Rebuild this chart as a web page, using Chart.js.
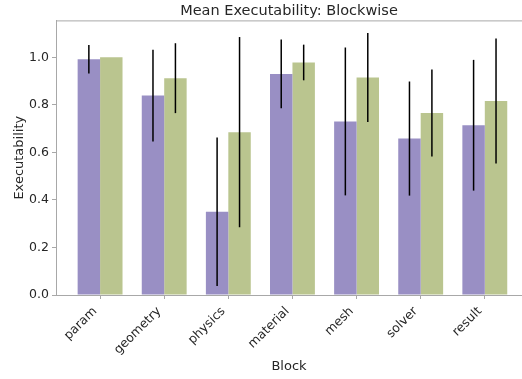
<!DOCTYPE html>
<html>
<head>
<meta charset="utf-8">
<script src="https://cdn.jsdelivr.net/npm/chart.js@4.4.1/dist/chart.umd.min.js"></script>
<style>
  html, body { margin: 0; padding: 0; background: #fff; }
  #wrap { width: 522px; height: 379px; }
</style>
</head>
<body>
<div id="wrap"><canvas id="blockChart"></canvas></div>
<script>
const blocks = ['param', 'geometry', 'physics', 'material', 'mesh', 'solver', 'result']
const meanA = [0.992, 0.839, 0.350, 0.930, 0.730, 0.658, 0.714]
const errA = [0.060, 0.193, 0.312, 0.145, 0.311, 0.240, 0.275]
const meanB = [1.000, 0.912, 0.685, 0.978, 0.915, 0.766, 0.816]
const errB = [0.000, 0.147, 0.400, 0.075, 0.187, 0.183, 0.263]
const yTicks = [0, 0.2, 0.4, 0.6, 0.8, 1.0]

const spineColor = '#a8a8a8'
const textColor = '#262626'
Chart.defaults.font.family = '"DejaVu Sans", sans-serif'
Chart.defaults.color = textColor

// black error bars, no caps
const errorBars = {
  id: 'errorBars',
  afterDatasetsDraw(chart) {
    const ctx = chart.ctx
    const yScale = chart.scales.y
    const errs = [errA, errB]
    ctx.save()
    ctx.strokeStyle = '#000'
    ctx.lineWidth = 1.5
    chart.data.datasets.forEach((ds, i) => {
      const meta = chart.getDatasetMeta(i)
      meta.data.forEach((bar, j) => {
        const e = errs[i][j]
        if (!e) return
        const v = ds.data[j].y
        ctx.beginPath()
        ctx.moveTo(bar.x, yScale.getPixelForValue(v - e))
        ctx.lineTo(bar.x, yScale.getPixelForValue(v + e))
        ctx.stroke()
      })
    })
    ctx.restore()
  }
}

// top spine
const topSpine = {
  id: 'topSpine',
  afterDraw(chart) {
    const { ctx, chartArea } = chart
    ctx.save()
    ctx.strokeStyle = spineColor
    ctx.lineWidth = 1
    ctx.beginPath()
    ctx.moveTo(chartArea.left, chartArea.top + 0.5)
    ctx.lineTo(chartArea.right, chartArea.top + 0.5)
    ctx.stroke()
    ctx.restore()
  }
}

const ctx = document.getElementById('blockChart').getContext('2d')
const blockChart = new Chart(ctx, {
  type: 'bar',
  data: {
    datasets: [{
      data: blocks.map((b, i) => ({ x: i, y: meanA[i] })),
      backgroundColor: '#998fc4',
      borderWidth: 0
    }, {
      data: blocks.map((b, i) => ({ x: i, y: meanB[i] })),
      backgroundColor: '#bac58f',
      borderWidth: 0
    }]
  },
  options: {
    responsive: true,
    maintainAspectRatio: false,
    animation: false,
    layout: { padding: 0 },
    categoryPercentage: 0.7,
    barPercentage: 1.0,
    plugins: {
      legend: { display: false },
      tooltip: { enabled: false },
      title: {
        display: true,
        fullSize: false,
        text: 'Mean Executability: Blockwise',
        color: textColor,
        font: { size: 14.5, weight: 'normal' },
        padding: { top: 3, bottom: 0 }
      }
    },
    scales: {
      x: {
        type: 'linear',
        min: -0.6875,
        max: 6.58,
        offset: false,
        afterBuildTicks: (scale) => { scale.ticks = blocks.map((b, i) => ({ value: i })) },
        afterFit: (scale) => { scale.height = 84 },
        ticks: {
          callback: (v) => blocks[v],
          minRotation: 45,
          maxRotation: 45,
          autoSkip: false,
          padding: 5,
          labelOffset: -5,
          color: textColor,
          font: { size: 12.5 }
        },
        grid: { offset: false, drawOnChartArea: false, tickLength: 4, tickColor: spineColor },
        border: { color: spineColor },
        title: { display: true, text: 'Block', color: textColor, font: { size: 13 }, padding: { top: 0, bottom: 5 } }
      },
      y: {
        min: 0,
        max: 1.155,
        afterBuildTicks: (scale) => { scale.ticks = yTicks.map(v => ({ value: v })) },
        afterFit: (scale) => { scale.width = 56 },
        ticks: {
          callback: (v) => v.toFixed(1),
          padding: 3,
          color: textColor,
          font: { size: 12.5 }
        },
        grid: { drawOnChartArea: false, tickLength: 4, tickColor: spineColor },
        border: { color: spineColor },
        title: { display: true, text: 'Executability', color: textColor, font: { size: 13 }, padding: { top: 12, bottom: 0 } }
      }
    }
  },
  plugins: [errorBars, topSpine]
})
</script>
</body>
</html>
